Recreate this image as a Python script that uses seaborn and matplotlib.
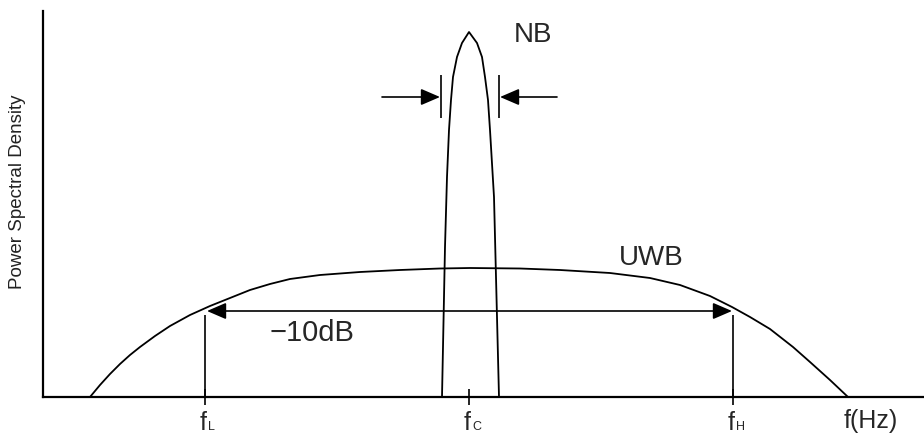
import matplotlib
matplotlib.use("Agg")
import matplotlib.pyplot as plt
import seaborn as sns

# spectrum sketch, x in frequency units (left spine = 43), y = power spectral density
uwb_f = [90, 100, 110, 120, 130, 140, 155, 170, 190, 210, 230, 250, 270, 290, 320,
         360, 400, 440, 470, 520, 560, 610, 650, 680, 710, 732, 750, 770, 793, 810,
         830, 848]
uwb_psd = [0, 12, 23, 33, 42, 50, 61, 71, 82, 91, 99, 107, 113, 118, 122,
           125, 127, 128.5, 129, 128.5, 127, 124, 119, 112, 101, 90, 80, 68, 50, 35,
           17, 0]

nb_f = [442, 445, 447, 449, 451, 453, 457, 462, 469, 477, 482, 485, 488, 490, 494, 499]
nb_psd = [0, 150, 220, 267, 297, 320, 340, 354, 365, 354, 340, 320, 297, 267, 200, 0]

f_low, f_c, f_high = 205, 469, 733
band_level = 86          # -10 dB level
nb_edges = [441, 499]
nb_arrow_level = 300

tick_pos = [f_low, f_c, f_high]
tick_sub = ["L", "C", "H"]

sns.set_style("white")
plt.rcParams['font.family'] = ['Liberation Sans', 'DejaVu Sans']

fig = plt.figure(figsize=(9.24, 4.37), dpi=100)
ax = fig.add_axes([43 / 924, 40 / 437, 881 / 924, 386 / 437])

sns.lineplot(x=uwb_f, y=uwb_psd, ax=ax, color="black", lw=1.3, sort=False, estimator=None)
sns.lineplot(x=nb_f, y=nb_psd, ax=ax, color="black", lw=1.3, sort=False, estimator=None)

# -10dB band markers
ax.vlines([f_low, f_high], 0, band_level - 4, color="black", lw=1.2)
ax.annotate("", xy=(f_low + 2, band_level), xytext=(f_high - 1, band_level),
            arrowprops=dict(arrowstyle="<|-|>,head_length=0.65,head_width=0.28",
                            color="black", lw=1.2, shrinkA=0, shrinkB=0, mutation_scale=18))

# NB bandwidth markers
ax.vlines(nb_edges, nb_arrow_level - 21, nb_arrow_level + 22, color="black", lw=1.2)
ax.annotate("", xy=(nb_edges[0] - 1, nb_arrow_level), xytext=(382, nb_arrow_level),
            arrowprops=dict(arrowstyle="-|>,head_length=0.65,head_width=0.28",
                            color="black", lw=1.2, shrinkA=0, shrinkB=0, mutation_scale=18))
ax.annotate("", xy=(nb_edges[1] + 1, nb_arrow_level), xytext=(557, nb_arrow_level),
            arrowprops=dict(arrowstyle="-|>,head_length=0.65,head_width=0.28",
                            color="black", lw=1.2, shrinkA=0, shrinkB=0, mutation_scale=18))

ax.text(533, 355, "NB", fontsize=20, ha="center", va="baseline")
ax.text(651, 132, "UWB", fontsize=20, ha="center", va="baseline")
ax.text(312, 56, "\u221210dB", fontsize=21, ha="center", va="baseline")

ax.set_xlim(43, 924)
ax.set_ylim(0, 386)
ax.set_xticks(tick_pos)
ax.set_xticklabels([])
ax.set_yticks([])
ax.tick_params(axis="x", direction="inout", length=11, width=1.2, color="black", bottom=True)

for x, s in zip(tick_pos, tick_sub):
    ax.text(x + 2, -33, "f", fontsize=18, ha="right", va="baseline", clip_on=False)
    ax.text(x + 3, -33, s, fontsize=9, ha="left", va="baseline", clip_on=False)
ax.text(871, -31, "f(Hz)", fontsize=18, ha="center", va="baseline", clip_on=False)

for side in ["top", "right"]:
    ax.spines[side].set_visible(False)
for side in ["left", "bottom"]:
    ax.spines[side].set_color("black")
    ax.spines[side].set_linewidth(1.6)

fig.text(18 / 924, 1 - 192 / 437, "Power Spectral Density", rotation=90,
         fontsize=13.5, ha="center", va="center", color="#222222")

fig.savefig("out.png", dpi=100)
